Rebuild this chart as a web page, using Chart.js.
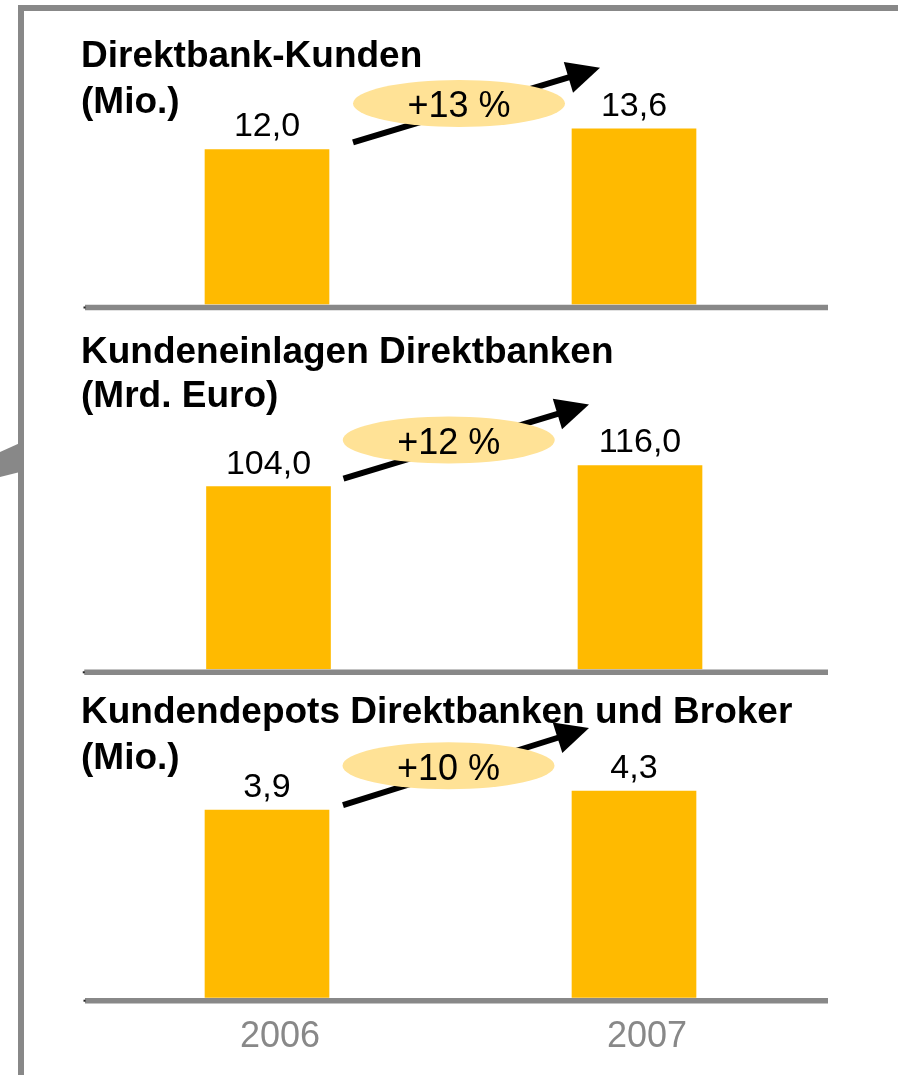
<!DOCTYPE html>
<html>
<head>
<meta charset="utf-8">
<script src="https://cdn.jsdelivr.net/npm/chart.js@4"></script>
<style>
    html, body { margin: 0; padding: 0; background: #fff; }
    body { width: 898px; height: 1075px; position: relative; overflow: hidden; }
    #frame {
        position: absolute; left: 18px; top: 5px; width: 1000px; height: 1200px;
        border: 6px solid #888; box-sizing: border-box;
    }
    #wedge {
        position: absolute; left: 0; top: 440px; width: 20px; height: 40px; background: #888;
        clip-path: polygon(0 12px, 20px 3px, 20px 32px, 0 37px);
    }
    canvas { position: absolute; left: 0; }
</style>
</head>
<body>
<div id="frame"></div>
<div id="wedge"></div>
<canvas id="chart1" width="898" height="310" style="top:10px"></canvas>
<canvas id="chart2" width="898" height="365" style="top:320px"></canvas>
<canvas id="chart3" width="898" height="390" style="top:685px"></canvas>

<script>
const years = ["2006", "2007"];

const kunden = [12.0, 13.6];
const einlagen = [104.0, 116.0];
const depots = [3.9, 4.3];

const titles = [
    ["Direktbank-Kunden", "(Mio.)"],
    ["Kundeneinlagen Direktbanken", "(Mrd. Euro)"],
    ["Kundendepots Direktbanken und Broker", "(Mio.)"]
];
const growthLabels = ["+13 %", "+12 %", "+10 %"];
const axisMax = [16, 140, 5];

const FONT = '"Liberation Sans", Arial, Helvetica, sans-serif';
const GRAY = "#888";
const BAR = "#FFBA00";
const BUBBLE = "#FFE296";

// layout of each panel (canvas coords)
const panels = [
    { id: "chart1", values: kunden, padding: { left: 83.5, right: 80.5, top: 87.8, bottom: 15.5 },
      titleY: [57, 103], arrowFrom: [24, -7], arrowTo: [28, -61], ellipseDy: -46, years: false },
    { id: "chart2", values: einlagen, padding: { left: 82.75, right: 72.25, top: 103.3, bottom: 15.7 },
      titleY: [43, 87], arrowFrom: [13, -8], arrowTo: [11, -61], ellipseDy: -46.5, years: false },
    { id: "chart3", values: depots, padding: { left: 83.5, right: 80.5, top: 72.3, bottom: 17.3 },
      titleY: [38, 84], arrowFrom: [14, -5], arrowTo: [17, -63], ellipseDy: -44.5, years: true }
];

function fmt(v) {
    return v.toFixed(1).replace(".", ",");
}

const decorPlugin = {
    id: "decor",
    afterDatasetsDraw(chart, args, opts) {
        const ctx = chart.ctx;
        const area = chart.chartArea;
        const bars = chart.getDatasetMeta(0).data;
        const values = chart.data.datasets[0].data;
        ctx.save();

        // base line
        ctx.strokeStyle = GRAY;
        ctx.lineWidth = 5.5;
        ctx.beginPath();
        ctx.moveTo(area.left + 1.5, area.bottom + 3);
        ctx.lineTo(828, area.bottom + 3);
        ctx.stroke();
        ctx.fillStyle = "#222";
        ctx.fillRect(area.left, area.bottom + 2, 2, 2);

        // title
        ctx.fillStyle = "#000";
        ctx.textAlign = "left";
        ctx.textBaseline = "alphabetic";
        ctx.font = "bold 37px " + FONT;
        opts.title.forEach((line, i) => ctx.fillText(line, 81, opts.titleY[i]));

        // value labels
        ctx.font = "34px " + FONT;
        ctx.textAlign = "center";
        bars.forEach((bar, i) => ctx.fillText(fmt(values[i]), bar.x, bar.y - 13));

        // arrow
        const b1 = bars[0], b2 = bars[1];
        const x0 = b1.x + b1.width / 2 + opts.arrowFrom[0];
        const y0 = b1.y + opts.arrowFrom[1];
        const x1 = b2.x - b2.width / 2 + opts.arrowTo[0];
        const y1 = b2.y + opts.arrowTo[1];
        const ang = Math.atan2(y1 - y0, x1 - x0);
        const cos = Math.cos(ang), sin = Math.sin(ang);
        const headLen = 33, headHalf = 16;
        const bx = x1 - headLen * cos, by = y1 - headLen * sin;
        ctx.strokeStyle = "#000";
        ctx.lineWidth = 6;
        ctx.beginPath();
        ctx.moveTo(x0, y0);
        ctx.lineTo(bx + 2 * cos, by + 2 * sin);
        ctx.stroke();
        ctx.fillStyle = "#000";
        ctx.beginPath();
        ctx.moveTo(x1, y1);
        ctx.lineTo(bx + headHalf * sin, by - headHalf * cos);
        ctx.lineTo(bx - headHalf * sin, by + headHalf * cos);
        ctx.closePath();
        ctx.fill();

        // growth bubble
        const ex = (x0 + x1) / 2 - 17.5;
        const ey = b1.y + opts.ellipseDy;
        ctx.fillStyle = BUBBLE;
        ctx.beginPath();
        ctx.ellipse(ex, ey, 106, 23.5, 0, 0, Math.PI * 2);
        ctx.fill();
        ctx.fillStyle = "#000";
        ctx.font = "36px " + FONT;
        ctx.textAlign = "center";
        ctx.fillText(opts.growth, ex, ey + 14);

        ctx.restore();
    }
};

panels.forEach((p, i) => {
    new Chart(document.getElementById(p.id), {
        type: "bar",
        data: {
            labels: years,
            datasets: [{
                data: p.values,
                backgroundColor: BAR,
                borderWidth: 0,
                barThickness: 124
            }]
        },
        options: {
            responsive: false,
            animation: false,
            events: [],
            layout: { padding: p.padding },
            plugins: {
                legend: { display: false },
                tooltip: { enabled: false },
                decor: {
                    title: titles[i],
                    titleY: p.titleY,
                    arrowFrom: p.arrowFrom,
                    arrowTo: p.arrowTo,
                    ellipseDy: p.ellipseDy,
                    growth: growthLabels[i]
                }
            },
            scales: {
                x: {
                    display: p.years,
                    grid: { display: false, drawTicks: false },
                    border: { display: false },
                    ticks: {
                        color: GRAY,
                        padding: 18,
                        labelOffset: 13,
                        font: { family: FONT, size: 36 }
                    },
                    afterFit: (scale) => { scale.height = p.years ? 60 : 0; }
                },
                y: { display: false, min: 0, max: axisMax[i] }
            }
        },
        plugins: [decorPlugin]
    });
});
</script>
</body>
</html>
